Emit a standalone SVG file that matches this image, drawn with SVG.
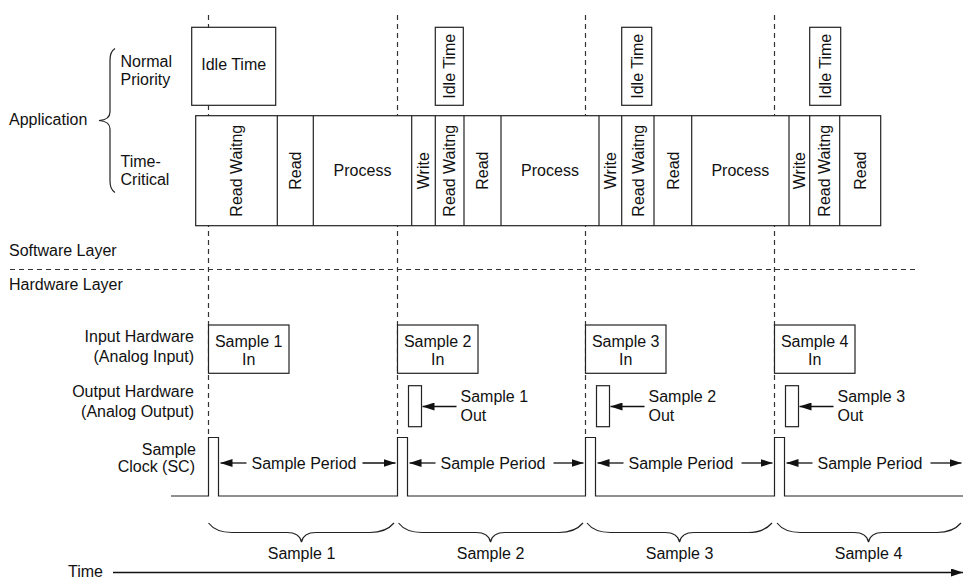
<svg xmlns="http://www.w3.org/2000/svg" width="964" height="582" viewBox="0 0 964 582">
<style>
text{font-family:"Liberation Sans",Arial,Helvetica,sans-serif;font-size:16px;fill:#111}
.m{text-anchor:middle}
.e{text-anchor:end}
.box{fill:#fff;stroke:#222;stroke-width:1.2}
.ln{fill:none;stroke:#222;stroke-width:1.2}
.dash{fill:none;stroke:#333;stroke-width:1.2;stroke-dasharray:5 4}
.arr{fill:none;stroke:#111;stroke-width:1.3;marker-end:url(#ah)}
</style>
<defs>
<marker id="ah" viewBox="0 0 12 8" refX="12" refY="4" markerWidth="12" markerHeight="8" orient="auto" markerUnits="userSpaceOnUse"><path d="M0,0 L12,4 L0,8 z" fill="#111"/></marker>
</defs>
<rect width="964" height="582" fill="#fff"/>

<g id="guides">
<line class="dash" x1="208.5" y1="15" x2="208.5" y2="437"/>
<line class="dash" x1="397.5" y1="15" x2="397.5" y2="437"/>
<line class="dash" x1="585.5" y1="15" x2="585.5" y2="437"/>
<line class="dash" x1="774.5" y1="15" x2="774.5" y2="437"/>
<line class="dash" x1="10" y1="269.5" x2="915" y2="269.5"/>
</g>

<g id="labels">
<text x="9" y="125">Application</text>
<path class="ln" d="M115,48.5 C111,51 110,54 110,60 V112 C110,117 106,120 99,120.5 C106,121 110,124 110,129 V181 C110,187 111,190 115,192.5"/>
<text x="120.5" y="66.5">Normal</text>
<text x="120.5" y="85">Priority</text>
<text x="120.5" y="166.5">Time-</text>
<text x="120.5" y="185">Critical</text>
<text x="9" y="256">Software Layer</text>
<text x="9" y="290">Hardware Layer</text>
<text class="e" x="194" y="342">Input Hardware</text>
<text class="e" x="194" y="362">(Analog Input)</text>
<text class="e" x="194" y="397">Output Hardware</text>
<text class="e" x="194" y="417">(Analog Output)</text>
<text class="e" x="196" y="455">Sample</text>
<text class="e" x="195" y="472">Clock (SC)</text>
<text x="68" y="577">Time</text>
</g>

<g id="idle1"><rect class="box" x="191.7" y="27.3" width="84" height="78"/><text class="m" x="233.7" y="70">Idle Time</text></g>
<g id="idle2"><rect class="box" x="435.3" y="27.3" width="28" height="78"/><text class="m" transform="translate(455,66.3) rotate(-90)">Idle Time</text></g>
<g id="idle3"><rect class="box" x="621.7" y="27.3" width="30" height="78"/><text class="m" transform="translate(642.5,66.3) rotate(-90)">Idle Time</text></g>
<g id="idle4"><rect class="box" x="809.7" y="27.3" width="31" height="78"/><text class="m" transform="translate(831,66.3) rotate(-90)">Idle Time</text></g>

<g id="timecritical">
<rect class="box" x="195.7" y="115.7" width="685" height="110"/>
<path class="ln" d="M277.3,115.7V225.7M313.3,115.7V225.7M411.7,115.7V225.7M435.3,115.7V225.7M464,115.7V225.7M501,115.7V225.7M599,115.7V225.7M621.7,115.7V225.7M654,115.7V225.7M691.7,115.7V225.7M789,115.7V225.7M809.7,115.7V225.7M839.7,115.7V225.7"/>
<text class="m" transform="translate(242.2,170.7) rotate(-90)">Read Waitng</text>
<text class="m" transform="translate(301,170.7) rotate(-90)">Read</text>
<text class="m" x="362.5" y="176.4">Process</text>
<text class="m" transform="translate(429.2,170.7) rotate(-90)">Write</text>
<text class="m" transform="translate(455.4,170.7) rotate(-90)">Read Waitng</text>
<text class="m" transform="translate(488.2,170.7) rotate(-90)">Read</text>
<text class="m" x="550" y="176.4">Process</text>
<text class="m" transform="translate(616,170.7) rotate(-90)">Write</text>
<text class="m" transform="translate(643.5,170.7) rotate(-90)">Read Waitng</text>
<text class="m" transform="translate(678.5,170.7) rotate(-90)">Read</text>
<text class="m" x="740.3" y="176.4">Process</text>
<text class="m" transform="translate(805,170.7) rotate(-90)">Write</text>
<text class="m" transform="translate(830.4,170.7) rotate(-90)">Read Waitng</text>
<text class="m" transform="translate(866,170.7) rotate(-90)">Read</text>
</g>

<g id="in1"><rect class="box" x="208.5" y="325" width="80.5" height="48.3"/><text class="m" x="248.7" y="347.3">Sample 1</text><text class="m" x="248.7" y="365.3">In</text></g>
<g id="in2"><rect class="box" x="397.5" y="325" width="80.5" height="48.3"/><text class="m" x="437.7" y="347.3">Sample 2</text><text class="m" x="437.7" y="365.3">In</text></g>
<g id="in3"><rect class="box" x="585.5" y="325" width="80.5" height="48.3"/><text class="m" x="625.7" y="347.3">Sample 3</text><text class="m" x="625.7" y="365.3">In</text></g>
<g id="in4"><rect class="box" x="774.5" y="325" width="80.5" height="48.3"/><text class="m" x="814.7" y="347.3">Sample 4</text><text class="m" x="814.7" y="365.3">In</text></g>

<g id="out1"><rect class="box" x="408.5" y="385.7" width="13" height="41"/><text x="460.5" y="401.7">Sample 1</text><text x="460.5" y="420.7">Out</text></g>
<g id="out2"><rect class="box" x="596.5" y="385.7" width="13" height="41"/><text x="648.5" y="401.7">Sample 2</text><text x="648.5" y="420.7">Out</text></g>
<g id="out3"><rect class="box" x="785.5" y="385.7" width="13" height="41"/><text x="837.5" y="401.7">Sample 3</text><text x="837.5" y="420.7">Out</text></g>

<g id="clock">
<path class="ln" d="M171,496H208.5V437.5H218.5V496H397.5V437.5H407.5V496H585.5V437.5H595.5V496H774.5V437.5H784.5V496H963"/>
<text x="251.5" y="468.5">Sample Period</text>
<text x="440.5" y="468.5">Sample Period</text>
<text x="628.5" y="468.5">Sample Period</text>
<text x="817.5" y="468.5">Sample Period</text>
</g>

<g id="connectors">
<line class="arr" x1="246.5" y1="463" x2="220.5" y2="463"/>
<line class="arr" x1="362.5" y1="463" x2="395.5" y2="463"/>
<line class="arr" x1="435.5" y1="463" x2="409.5" y2="463"/>
<line class="arr" x1="553.5" y1="463" x2="583.5" y2="463"/>
<line class="arr" x1="623.5" y1="463" x2="597.5" y2="463"/>
<line class="arr" x1="741.5" y1="463" x2="772.5" y2="463"/>
<line class="arr" x1="812.5" y1="463" x2="786.5" y2="463"/>
<line class="arr" x1="930.5" y1="463" x2="961.5" y2="463"/>
<line class="arr" x1="456.5" y1="406.5" x2="422.5" y2="406.5"/>
<line class="arr" x1="644.5" y1="406.5" x2="610.5" y2="406.5"/>
<line class="arr" x1="833.5" y1="406.5" x2="799.5" y2="406.5"/>
<line class="arr" x1="113" y1="572.5" x2="963" y2="572.5"/>
</g>

<g id="samples">
<path class="ln" d="M208.5,523 C214,530 222,532.5 232,532.5 H287 C295,532.5 300,535 301.5,542 C303,535 308,532.5 316,532.5 H370 C380,532.5 388,530 394,523"/>
<text class="m" x="301.5" y="559">Sample 1</text>
<path class="ln" d="M398.5,523 C404,530 412,532.5 422,532.5 H476 C484,532.5 489,535 490.5,542 C492,535 497,532.5 505,532.5 H559 C569,532.5 577,530 583,523"/>
<text class="m" x="490.5" y="559">Sample 2</text>
<path class="ln" d="M587,523 C592.5,530 600.5,532.5 610.5,532.5 H665 C673,532.5 678,535 679.5,542 C681,535 686,532.5 694,532.5 H748 C758,532.5 766,530 772,523"/>
<text class="m" x="679.5" y="559">Sample 3</text>
<path class="ln" d="M777,523 C782.5,530 790.5,532.5 800.5,532.5 H854 C862,532.5 867,535 868.5,542 C870,535 875,532.5 883,532.5 H937 C947,532.5 955,530 961,523"/>
<text class="m" x="868.5" y="559">Sample 4</text>
</g>
</svg>
